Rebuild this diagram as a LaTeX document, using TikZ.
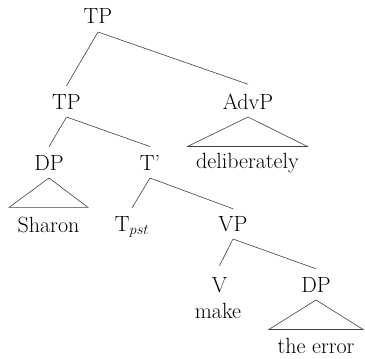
\documentclass[tikz,border=0pt]{standalone}
\begin{document}
\begin{tikzpicture}[x=1pt,y=-1pt,
  lbl/.style={anchor=base,inner sep=0pt,font=\fontsize{22}{26}\selectfont,text=black},
  leaf/.style={lbl,inner xsep=8.5pt},
  branch/.style={line width=0.6pt,draw=black!75},
  roof/.style={line width=0.6pt,draw=black!75}]
\useasboundingbox (0,0) rectangle (365,359);

% category labels
\node[lbl] (tp)    at (98,23)    {TP};
\node[lbl] (tpl)   at (66.5,109) {TP};
\node[lbl] (advp)  at (248,109)  {AdvP};
\node[lbl] (dp)    at (49,170)   {DP};
\node[lbl] (tbar)  at (150,170)  {T'};
\node[lbl] (tpst)  at (132,231)  {T$_{pst}$};
\node[lbl] (vp)    at (233,231)  {VP};
\node[lbl] (v)     at (219.5,292){V};
\node[lbl] (make)  at (218,318)  {make};
\node[lbl] (dpo)   at (316,292)  {DP};

% words under roofs
\node[leaf] (delib)  at (247.5,168) {deliberately};
\node[leaf] (sharon) at (48.5,232)  {Sharon};
\node[leaf] (err)    at (316,353)   {the error};

% branches
\draw[branch] ([yshift=-9pt]tp.base) -- ([yshift=8pt]tpl.north);
\draw[branch] ([yshift=-9pt]tp.base) -- ([yshift=9pt]advp.north);
\draw[branch] ([yshift=-8pt]tpl.base) -- ([yshift=8pt]dp.north);
\draw[branch] ([yshift=-8pt]tpl.base) -- ([yshift=8pt]tbar.north);
\draw[branch] ([yshift=-8pt]tbar.base) -- ([yshift=8pt]tpst.north);
\draw[branch] ([yshift=-8pt]tbar.base) -- ([yshift=7pt]vp.north);
\draw[branch] ([yshift=-8pt]vp.base) -- ([yshift=11pt]v.north);
\draw[branch] ([yshift=-8pt]vp.base) -- ([yshift=8pt]dpo.north);

% roofs over unanalysed phrases
\draw[roof] ([yshift=-8pt]advp.base) -- ([yshift=6pt]delib.north west)
  -- ([yshift=6pt]delib.north east) -- cycle;
\draw[roof] ([yshift=-8pt]dp.base) -- ([yshift=9pt]sharon.north west)
  -- ([yshift=9pt]sharon.north east) -- cycle;
\draw[roof] ([yshift=-8pt]dpo.base) -- ([yshift=8pt]err.north west)
  -- ([yshift=8pt]err.north east) -- cycle;
\end{tikzpicture}
\end{document}
